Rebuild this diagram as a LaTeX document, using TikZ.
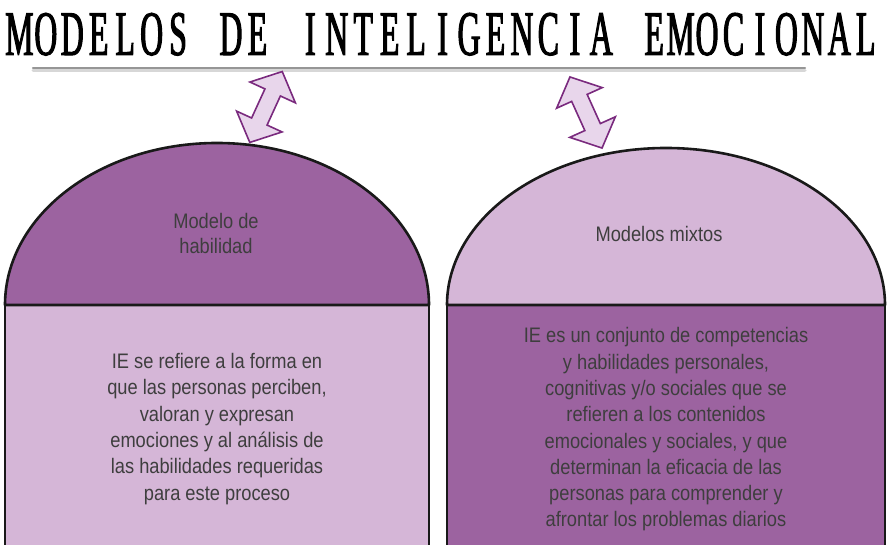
\documentclass[tikz,border=0pt]{standalone}
\usepackage{fontspec}
\setmainfont{Liberation Sans}
\newfontfamily\bodyfont[FakeStretch=0.87]{Liberation Sans}
\newfontfamily\titlefont[FakeStretch=0.5,FakeBold=1.6]{Liberation Serif}
\definecolor{dpurple}{RGB}{156,99,160}
\definecolor{lpurple}{RGB}{213,182,215}
\definecolor{arrowfill}{RGB}{232,214,235}
\definecolor{arrowline}{RGB}{122,42,126}
\definecolor{txtgray}{RGB}{62,62,62}
\definecolor{ulgray}{RGB}{150,150,150}
\definecolor{ulshadow}{RGB}{215,215,215}
\newlength\cellw \setlength\cellw{26.45pt}
\def\monoword#1{\monoA#1\relax}
\def\monoA#1{\ifx#1\relax\else\makebox[\cellw][c]{#1}\expandafter\monoA\fi}
\tikzset{
  border/.style={draw=black!90, line width=2.6pt, line join=round},
  bodytext/.style={align=center, inner sep=0pt, text=txtgray, font=\bodyfont\fontsize{21}{26.3}\selectfont},
  titletext/.style={anchor=base west, inner sep=0pt, text=black, font=\titlefont\fontsize{63.5}{63.5}\selectfont},
  dblarr/.pic={
    \draw[fill=arrowfill, draw=arrowline, line width=1.6pt, line join=miter]
      (39,0) -- (16,25) -- (16,8.5) -- (-16,8.5) -- (-16,25) -- (-39,0)
      -- (-16,-25) -- (-16,-8.5) -- (16,-8.5) -- (16,-25) -- cycle;
  }
}
\begin{document}
\begin{tikzpicture}[x=1pt,y=1pt]
\useasboundingbox (0,0) rectangle (887,545);
\clip (0,0) rectangle (887,545);
% title
\node[titletext] (title) at (6,490) {\monoword{MODELOS}\hspace{\cellw}\monoword{DE}\hspace{\cellw}\monoword{INTELIGENCIA}\hspace{\cellw}\monoword{EMOCIONAL}};
\coordinate (ulA) at (33,477);
\coordinate (ulB) at (805,477);
\draw[ulshadow, line width=3pt, line cap=round] ([yshift=-2.5pt]ulA) -- ([yshift=-2.5pt]ulB);
\draw[ulgray, line width=2.2pt, line cap=round] (ulA) -- (ulB);
% arrows
\pic[rotate=65.4] at (266,438) {dblarr};
\pic[rotate=114.3] at (586,432.5) {dblarr};
% left block
\draw[border, fill=lpurple] (5,-10) rectangle (429,240);
\draw[border, fill=dpurple] (5,240) arc[start angle=180, end angle=0, x radius=212, y radius=162] -- cycle;
% right block
\draw[border, fill=dpurple] (447,-10) rectangle (885,240);
\draw[border, fill=lpurple] (447,240) arc[start angle=180, end angle=0, x radius=219, y radius=157] -- cycle;
% texts
\node[bodytext, font=\bodyfont\fontsize{21}{25}\selectfont] (ldome) at (216,311) {Modelo de\\habilidad};
\node[bodytext] (rdome) at (659,311) {Modelos mixtos};
\node[bodytext] (ltext) at (217,116) {IE se refiere a la forma en\\que las personas perciben,\\valoran y expresan\\emociones y al análisis de\\las habilidades requeridas\\para este proceso};
\node[bodytext] (rtext) at (666,115.5) {IE es un conjunto de competencias\\y habilidades personales,\\cognitivas y/o sociales que se\\refieren a los contenidos\\emocionales y sociales, y que\\determinan la eficacia de las\\personas para comprender y\\afrontar los problemas diarios};
\end{tikzpicture}
\end{document}
